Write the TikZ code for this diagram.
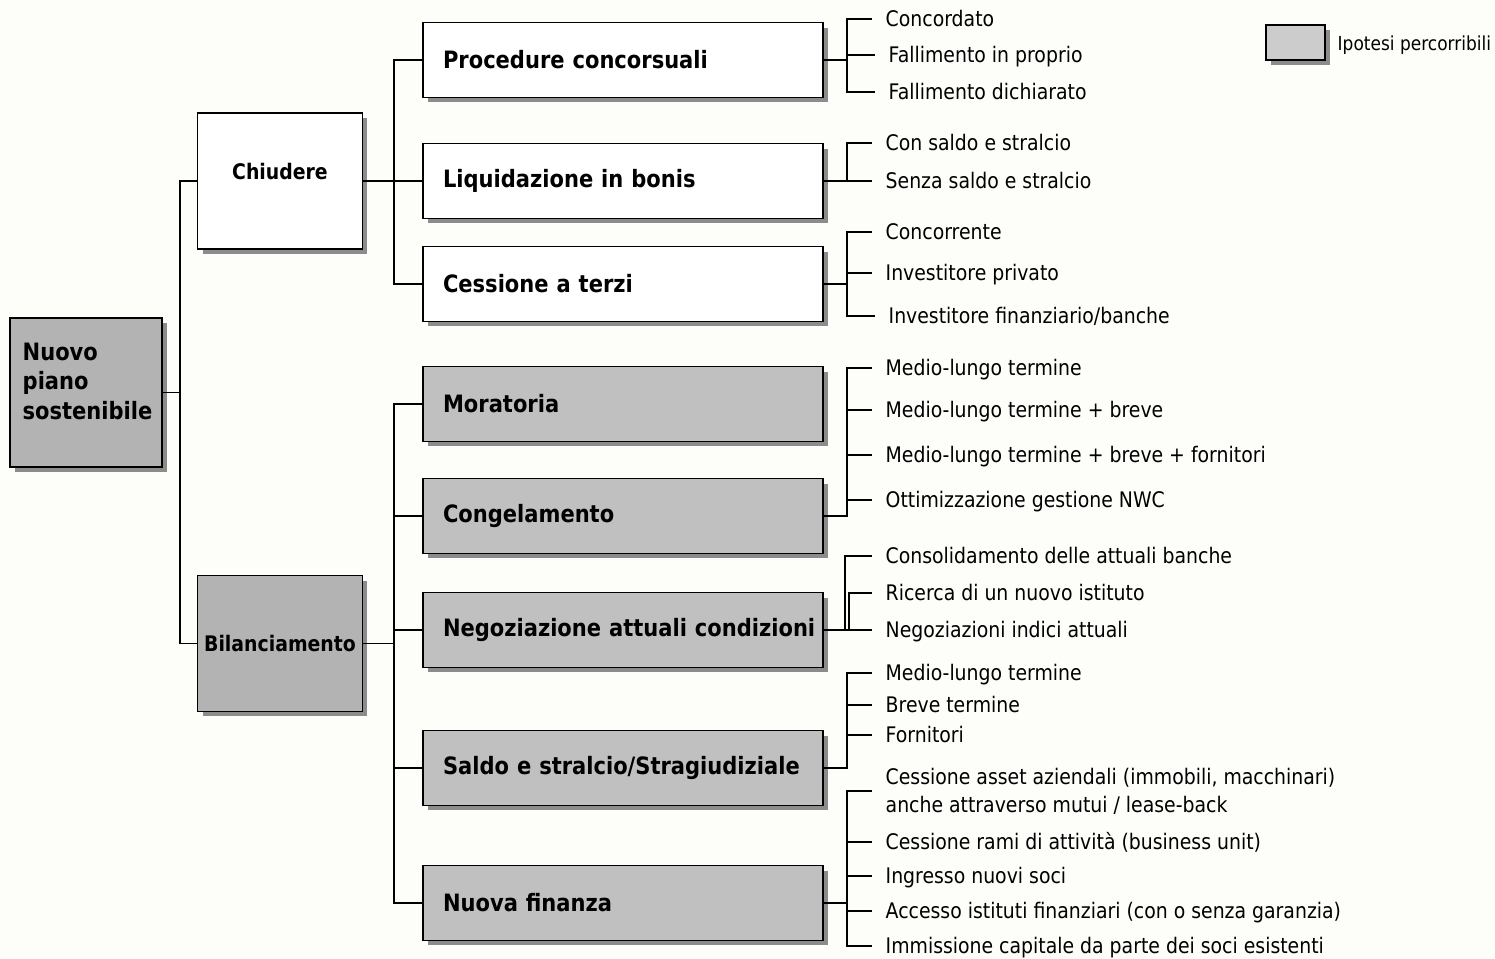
\documentclass[tikz,border=0pt]{standalone}
\usepackage{fontspec}
\setmainfont{DejaVu Sans}[FakeStretch=0.88]
\usetikzlibrary{shadows}

\definecolor{paper}{RGB}{253,253,249}
\definecolor{optbox}{RGB}{192,192,192}
\definecolor{rootbox}{RGB}{179,179,179}
\definecolor{keybox}{RGB}{204,204,204}

\begin{document}
\begin{tikzpicture}[x=0.02cm,y=-0.02cm,line width=0.8pt,
  box/.style={draw,line width=1.1pt,fill=white,
    drop shadow={shadow xshift=0.1cm,shadow yshift=-0.1cm,fill=black!45,opacity=1}},
  lvlone/.style={box,minimum width=3.3cm,minimum height=2.72cm,inner sep=0pt,
    font=\fontsize{12.2}{15}\selectfont\bfseries},
  lvltwo/.style={box,text width=7.8cm,inner xsep=0.1cm,minimum height=1.5cm,
    align=left,execute at begin node={\hspace*{0.3cm}},
    font=\fontsize{13.6}{16}\selectfont\bfseries},
  leafbase/.style={anchor=west,inner xsep=0.26cm,inner ysep=0pt,
    font=\fontsize{12.2}{16}\selectfont},
  leaf/.style={leafbase,text height=10.1pt,text depth=1.4pt}]
  \fill[paper] (0,0) rectangle (1495,959);
  \useasboundingbox (0,0) rectangle (1495,959);

  % legenda
  \node[box,fill=keybox,minimum width=1.18cm,minimum height=0.7cm] (key) at (1295.5,42.5) {};
  \node[anchor=west,inner sep=0pt,font=\fontsize{11}{13}\selectfont] (keyT) at (1337,45)
    {Ipotesi percorribili};

  % radice e primo livello
  \node[box,fill=rootbox,minimum width=3.04cm,minimum height=2.98cm] (root) at (86,392.5) {};
  \node[anchor=north west,align=left,inner sep=0pt,
    font=\fontsize{13.6}{17}\selectfont\bfseries] (rootT) at (22,342)
    {Nuovo\\piano\\sostenibile};
  \node[lvlone] (chiud) at (280,181) {};
  \node[inner sep=0pt,font=\fontsize{12.2}{15}\selectfont\bfseries] (chiudT) at (280,172) {Chiudere};
  \node[lvlone,fill=rootbox] (bil) at (280,643.5) {Bilanciamento};

  % secondo livello
  \node[lvltwo] (proc) at (623,60) {Procedure concorsuali};
  \node[lvltwo] (liq) at (623,181) {Liquidazione in bonis};
  \node[lvltwo] (cess) at (623,284) {Cessione a terzi};
  \node[lvltwo,fill=optbox] (mor) at (623,404) {Moratoria};
  \node[lvltwo,fill=optbox] (cong) at (623,516) {Congelamento};
  \node[lvltwo,fill=optbox] (neg) at (623,630) {Negoziazione attuali condizioni};
  \node[lvltwo,fill=optbox] (saldo) at (623,768) {Saldo e stralcio/Stragiudiziale};
  \node[lvltwo,fill=optbox] (nuova) at (623,903) {Nuova finanza};

  % foglie
  \node[leaf] (pc1) at (872,19) {Concordato};
  \node[leaf,xshift=1.7pt] (pc2) at (872,55) {Fallimento in proprio};
  \node[leaf,xshift=1.7pt] (pc3) at (872,92) {Fallimento dichiarato};
  \node[leaf] (lq1) at (872,143) {Con saldo e stralcio};
  \node[leaf] (lq2) at (872,181) {Senza saldo e stralcio};
  \node[leaf] (ce1) at (872,232) {Concorrente};
  \node[leaf] (ce2) at (872,273) {Investitore privato};
  \node[leaf,xshift=1.7pt] (ce3) at (872,316) {Investitore finanziario/banche};
  \node[leaf] (mo1) at (872,368) {Medio-lungo termine};
  \node[leaf] (mo2) at (872,410) {Medio-lungo termine + breve};
  \node[leaf] (mo3) at (872,455) {Medio-lungo termine + breve + fornitori};
  \node[leaf] (mo4) at (872,500) {Ottimizzazione gestione NWC};
  \node[leaf] (ng1) at (872,556) {Consolidamento delle attuali banche};
  \node[leaf] (ng2) at (872,593) {Ricerca di un nuovo istituto};
  \node[leaf] (ng3) at (872,630) {Negoziazioni indici attuali};
  \node[leaf] (sa1) at (872,673) {Medio-lungo termine};
  \node[leaf] (sa2) at (872,705) {Breve termine};
  \node[leaf] (sa3) at (872,735) {Fornitori};
  \node[leafbase,align=left] (nf1) at (872,791)
    {Cessione asset aziendali (immobili, macchinari)\\anche attraverso mutui / lease-back};
  \node[leaf] (nf2) at (872,842) {Cessione rami di attività (business unit)};
  \node[leaf] (nf3) at (872,876) {Ingresso nuovi soci};
  \node[leaf] (nf4) at (872,911) {Accesso istituti finanziari (con o senza garanzia)};
  \node[leaf] (nf5) at (872,946) {Immissione capitale da parte dei soci esistenti};

  % collegamenti a sinistra
  \coordinate (sp0) at (180,0);
  \coordinate (sp1) at (394,0);
  \draw (root.east) -- (root.east -| sp0);
  \draw (chiud.west) -| (sp0 |- bil.west) -- (bil.west);
  \draw (chiud.east) -- (liq.west);
  \draw (proc.west) -| (sp1 |- cess.west) -- (cess.west);
  \draw (bil.east) -- (bil.east -| sp1);
  \draw (mor.west) -| (sp1 |- nuova.west) -- (nuova.west);
  \foreach \b in {cong,neg,saldo}
    \draw (\b.west) -- (\b.west -| sp1);

  % collegamenti a destra
  \coordinate (fk) at (847,0);
  \coordinate (fkA) at (845,0);
  \coordinate (fkB) at (849,0);
  \draw (proc.east) -- (proc.east -| fk);
  \draw (pc1.west) -| (fk |- pc3.west) -- (pc3.west);
  \draw (pc2.west) -- (pc2.west -| fk);
  \draw (liq.east) -- (lq2.west);
  \draw (lq1.west) -| (fk |- lq2.west);
  \draw (cess.east) -- (cess.east -| fk);
  \draw (ce1.west) -| (fk |- ce3.west) -- (ce3.west);
  \draw (ce2.west) -- (ce2.west -| fk);
  \draw (mo1.west) -| (fk |- cong.east) -- (cong.east);
  \foreach \l in {mo2,mo3,mo4}
    \draw (\l.west) -- (\l.west -| fk);
  \draw (neg.east) -- (ng3.west);
  \draw (ng1.west) -| (fkA |- neg.east);
  \draw (ng2.west) -| (fkB |- neg.east);
  \draw (sa1.west) -| (fk |- saldo.east) -- (saldo.east);
  \foreach \l in {sa2,sa3}
    \draw (\l.west) -- (\l.west -| fk);
  \draw (nuova.east) -- (nuova.east -| fk);
  \draw (nf1.west) -| (fk |- nf5.west) -- (nf5.west);
  \foreach \l in {nf2,nf3,nf4}
    \draw (\l.west) -- (\l.west -| fk);
\end{tikzpicture}
\end{document}
